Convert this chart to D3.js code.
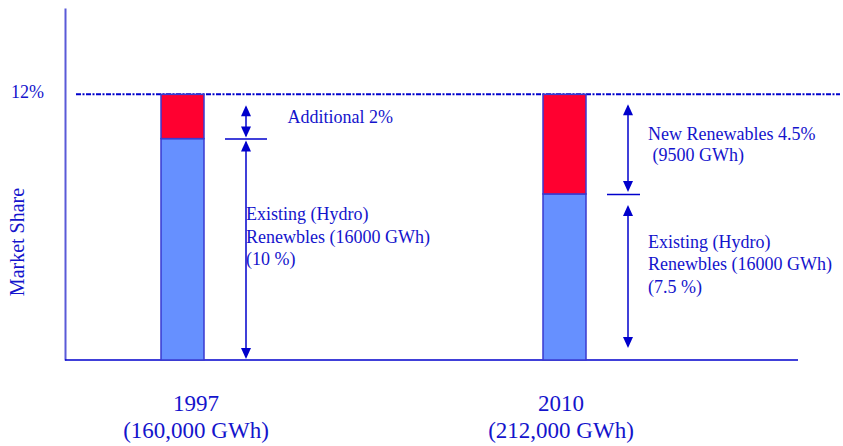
<!DOCTYPE html>
<html>
<head>
<meta charset="utf-8">
<script src="https://cdn.jsdelivr.net/npm/d3@7/dist/d3.min.js"></script>
<style>
  html, body { margin: 0; padding: 0; background: #fff; }
  svg { display: block; }
  text { font-family: "Liberation Serif", "Times New Roman", serif; fill: #1414cc; white-space: pre; }
</style>
</head>
<body>
<svg id="chart" width="843" height="446"></svg>
<script>
// ---- data ----
const years = ["1997", "2010"];
const totalsGWh = ["(160,000 GWh)", "(212,000 GWh)"];
const existingShare = [10, 7.5];   // % of market, existing hydro renewables
const newShare = [2, 4.5];         // % of market, additional renewables
const targetShare = 12;            // % target line
const yTicks = [12];
const newLabels = [["Additional 2%"], ["New Renewables 4.5%", " (9500 GWh)"]];
const existingLabels = [
  ["Existing (Hydro)", "Renewbles (16000 GWh)", "(10 %)"],
  ["Existing (Hydro)", "Renewbles (16000 GWh)", "(7.5 %)"]
];

// ---- layout ----
const svg = d3.select("#chart");
const axisX = 65, baseY = 360, topY = 8, plotRight = 798;
const yMax = 15.9;
const y = d3.scaleLinear().domain([0, yMax]).range([baseY, topY]);
const x = d3.scalePoint().domain(years).range([182.5, 564.5]);
const xLabel = d3.scalePoint().domain(years).range([196, 561]);
const barW = 43;
const arrowDx = 63.5;
const lineGapNew = 21, lineGapEx = 22.5;

// per-bar annotation geometry (insets in px, text offsets from bar centre)
const annot = [
  { topIn: 11, splitUp: 1, splitDown: 2, baseIn: 1, tickL: 21, tickR: 21, newDx: 105, exDx: 63.5 },
  { topIn: 10, splitUp: 2, splitDown: 11, baseIn: 12, tickL: 21, tickR: 12, newDx: 83.5, exDx: 83.5 }
];

const blue = "#0000cc";

// y axis (line + percentage tick)
const yAxis = svg.append("g")
  .attr("transform", `translate(${axisX},0)`)
  .call(d3.axisLeft(y).tickValues(yTicks).tickSize(0).tickSizeOuter(0).tickPadding(21).tickFormat(d => d + "%"));
yAxis.select(".domain").attr("stroke", "#5a5ad8").attr("stroke-width", 2);
yAxis.selectAll(".tick text")
  .attr("font-family", "Liberation Serif, Times New Roman, serif")
  .attr("font-size", 18).attr("fill", "#2a2acc").attr("dy", "0.2em");

// axis title
svg.append("text")
  .attr("transform", `translate(24,242) rotate(-90)`)
  .attr("text-anchor", "middle")
  .attr("font-size", 20)
  .text("Market Share");

// baseline
svg.append("line")
  .attr("x1", axisX).attr("x2", plotRight)
  .attr("y1", y(0)).attr("y2", y(0))
  .attr("stroke", blue).attr("stroke-width", 1.5);

// target line
svg.append("line")
  .attr("x1", 76).attr("x2", 840)
  .attr("y1", y(targetShare)).attr("y2", y(targetShare))
  .attr("stroke", blue).attr("stroke-width", 2)
  .attr("stroke-dasharray", "5,1.5,2,1.5");

// stacked bars
const bars = svg.append("g").selectAll("g").data(years).join("g");
bars.append("rect")
  .attr("x", d => x(d) - barW / 2)
  .attr("width", barW)
  .attr("y", (d, i) => y(existingShare[i]))
  .attr("height", (d, i) => y(0) - y(existingShare[i]))
  .attr("fill", "#6690ff").attr("stroke", "#3a3ad0").attr("stroke-width", 1.5);
bars.append("rect")
  .attr("x", d => x(d) - barW / 2)
  .attr("width", barW)
  .attr("y", (d, i) => y(existingShare[i] + newShare[i]))
  .attr("height", (d, i) => y(existingShare[i]) - y(existingShare[i] + newShare[i]))
  .attr("fill", "#ff0030").attr("stroke", "#3a3ad0").attr("stroke-width", 1.5);

// dimension arrows
function arrow(g, ax, y1, y2) {
  const hw = 5, hh = 11;
  g.append("line").attr("x1", ax).attr("x2", ax).attr("y1", y1 + 2).attr("y2", y2 - 2)
    .attr("stroke", blue).attr("stroke-width", 1.5);
  g.append("path").attr("d", `M${ax},${y1}L${ax - hw},${y1 + hh}L${ax + hw},${y1 + hh}Z`).attr("fill", blue);
  g.append("path").attr("d", `M${ax},${y2}L${ax - hw},${y2 - hh}L${ax + hw},${y2 - hh}Z`).attr("fill", blue);
}

years.forEach((yr, i) => {
  const a = annot[i];
  const ax = x(yr) + arrowDx;
  const ySplit = y(existingShare[i]);
  const yTop = y(existingShare[i] + newShare[i]);
  const g = svg.append("g");
  arrow(g, ax, yTop + a.topIn, ySplit - a.splitUp);
  arrow(g, ax, ySplit + a.splitDown, y(0) - a.baseIn);
  g.append("line").attr("x1", ax - a.tickL).attr("x2", ax + a.tickR)
    .attr("y1", ySplit + 0.5).attr("y2", ySplit + 0.5)
    .attr("stroke", blue).attr("stroke-width", 1.5);

  // label blocks centred on their segment
  const newMid = (yTop + ySplit) / 2;
  const nNew = newLabels[i].length;
  g.append("g").selectAll("text").data(newLabels[i]).join("text")
    .attr("x", x(yr) + a.newDx)
    .attr("y", (d, k) => newMid + (k - (nNew - 1) / 2) * lineGapNew)
    .attr("dy", "0.35em")
    .attr("font-size", 18)
    .text(d => d);

  const exMid = (ySplit + y(0)) / 2 - 13;
  const nEx = existingLabels[i].length;
  g.append("g").selectAll("text").data(existingLabels[i]).join("text")
    .attr("x", x(yr) + a.exDx)
    .attr("y", (d, k) => exMid + (k - (nEx - 1) / 2) * lineGapEx)
    .attr("dy", "0.35em")
    .attr("font-size", 18)
    .text(d => d);
});

// category labels
const cat = svg.append("g").selectAll("g").data(years).join("g");
cat.append("text")
  .attr("x", d => xLabel(d)).attr("y", 403).attr("dy", "0.35em")
  .attr("text-anchor", "middle").attr("font-size", 23)
  .text(d => d);
cat.append("text")
  .attr("x", d => xLabel(d)).attr("y", 430).attr("dy", "0.35em")
  .attr("text-anchor", "middle").attr("font-size", 23)
  .text((d, i) => totalsGWh[i]);
</script>
</body>
</html>
